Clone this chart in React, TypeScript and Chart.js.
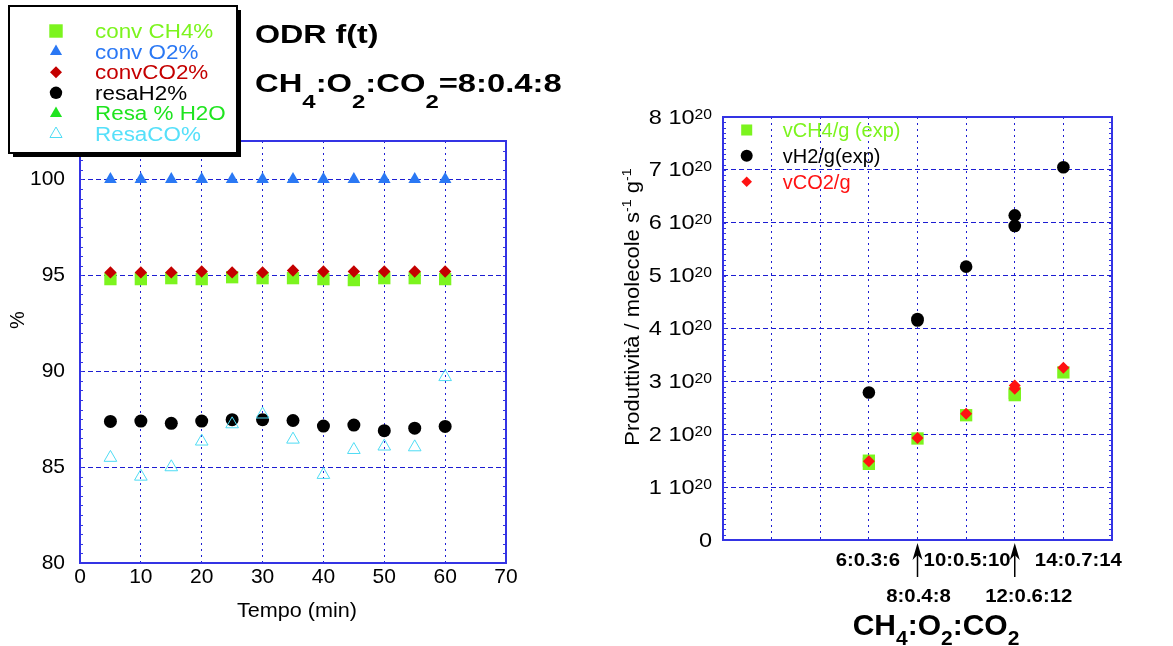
import React, { useEffect, useRef } from 'react';
import { Chart, registerables } from 'chart.js';

Chart.register(...registerables);

const FONT = "'Liberation Sans', Arial, Helvetica, sans-serif";

// ---------------- Left chart data (ODR f(t)) ----------------
const timeMin = [5, 10, 15, 20, 25, 30, 35, 40, 45, 50, 55, 60];
const convCH4 = [94.8, 94.8, 94.85, 94.8, 94.9, 94.85, 94.85, 94.8, 94.75, 94.85, 94.85, 94.8];
const convO2 = [100, 100, 100, 100, 100, 100, 100, 100, 100, 100, 100, 100];
const convCO2 = [95.15, 95.15, 95.15, 95.2, 95.15, 95.15, 95.25, 95.2, 95.2, 95.2, 95.2, 95.2];
const resaH2 = [87.38, 87.4, 87.28, 87.4, 87.47, 87.47, 87.43, 87.14, 87.19, 86.9, 87.03, 87.12];
const resaH2O: number[] = [];
const resaCO = [85.49, 84.51, 85.0, 86.34, 87.24, 87.75, 86.44, 84.6, 85.9, 86.08, 86.04, 89.7];
const leftSeriesLabels = ['conv CH4%', 'conv O2%', 'convCO2%', 'resaH2%', 'Resa % H2O', 'ResaCO%'];
const leftXMin = 0, leftXMax = 70, leftXStep = 10;
const leftYMin = 80, leftYMax = 102, leftYStep = 5;
const leftXTitle = 'Tempo (min)';
const leftYTitle = '%';

// ---------------- Right chart data (productivity) ----------------
const ratioCH4 = [6, 8, 10, 12, 14];
const ratioLabels = ['6:0.3:6', '8:0.4:8', '10:0.5:10', '12:0.6:12', '14:0.7:14'];
const vCH4x = [6, 6, 8, 10, 12, 12, 14];
const vCH4 = [1.44, 1.5, 1.92, 2.36, 2.74, 2.78, 3.17];
const vH2x = [6, 8, 8, 10, 12, 12, 14];
const vH2 = [2.79, 4.15, 4.18, 5.17, 5.94, 6.14, 7.05];
const vCO2x = [6, 8, 10, 12, 12, 14];
const vCO2 = [1.49, 1.93, 2.39, 2.86, 2.92, 3.26];
const rightSeriesLabels = ['vCH4/g (exp)', 'vH2/g(exp)', 'vCO2/g'];
const rightYTicks = [0, 1, 2, 3, 4, 5, 6, 7, 8];
const rightExponent = '20';
const rightXMin = 0, rightXMax = 16, rightXStep = 2;

const BLUE = '#1d1dd2';
const FRAME = '#3434e4';
const LIME = '#7cf41e';

type Seg = { t: string; size: number; bold?: boolean; dy?: number };

function fontOf(s: Seg) {
  return `${s.bold ? 'bold ' : ''}${s.size}px ${FONT}`;
}
function richWidth(ctx: CanvasRenderingContext2D, segs: Seg[], sx: number) {
  let w = 0;
  for (const s of segs) {
    ctx.font = fontOf(s);
    w += ctx.measureText(s.t).width * sx;
  }
  return w;
}
function drawRich(ctx: CanvasRenderingContext2D, segs: Seg[], x: number, y: number, align: 'left' | 'center' | 'right', color: string, sx = 1) {
  const w = richWidth(ctx, segs, sx);
  let cx = align === 'left' ? x : align === 'center' ? x - w / 2 : x - w;
  ctx.fillStyle = color;
  ctx.textAlign = 'left';
  ctx.textBaseline = 'alphabetic';
  for (const s of segs) {
    ctx.font = fontOf(s);
    ctx.save();
    ctx.translate(cx, y + (s.dy ?? 0));
    ctx.scale(sx, 1);
    ctx.fillText(s.t, 0, 0);
    ctx.restore();
    cx += ctx.measureText(s.t).width * sx;
  }
}

function drawMarker(ctx: CanvasRenderingContext2D, style: string, x: number, y: number, r: number, fill: string, stroke: string, lw: number) {
  ctx.beginPath();
  if (style === 'rect') {
    const s = r * Math.SQRT1_2;
    ctx.rect(x - s, y - s, 2 * s, 2 * s);
  } else if (style === 'triangle') {
    ctx.moveTo(x, y - r);
    ctx.lineTo(x + r * 0.866, y + r * 0.5);
    ctx.lineTo(x - r * 0.866, y + r * 0.5);
    ctx.closePath();
  } else if (style === 'rectRot') {
    ctx.moveTo(x - r, y);
    ctx.lineTo(x, y - r);
    ctx.lineTo(x + r, y);
    ctx.lineTo(x, y + r);
    ctx.closePath();
  } else {
    ctx.arc(x, y, r, 0, Math.PI * 2);
  }
  if (fill && fill !== 'transparent') {
    ctx.fillStyle = fill;
    ctx.fill();
  }
  if (lw > 0) {
    ctx.strokeStyle = stroke;
    ctx.lineWidth = lw;
    ctx.stroke();
  }
}

function pts(xs: number[], ys: number[]) {
  return ys.map((y, i) => ({ x: xs[i], y }));
}

function line(ctx: CanvasRenderingContext2D, x1: number, y1: number, x2: number, y2: number) {
  ctx.beginPath();
  ctx.moveTo(x1, y1);
  ctx.lineTo(x2, y2);
  ctx.stroke();
}

const leftDecor = {
  id: 'leftDecor',
  beforeDatasetsDraw(chart: any) {
    const { ctx, chartArea: a, scales } = chart;
    const y = scales.y;
    ctx.save();
    ctx.strokeStyle = FRAME;
    ctx.lineWidth = 1;
    for (let v = leftYMin; v <= leftYMax + 1e-9; v += 0.5) {
      const py = Math.round(y.getPixelForValue(v)) + 0.5;
      line(ctx, a.left, py, a.left + 3, py);
      line(ctx, a.right - 3, py, a.right, py);
    }
    ctx.lineWidth = 2;
    ctx.strokeRect(a.left, a.top, a.right - a.left, a.bottom - a.top);
    ctx.restore();
  },
  afterDraw(chart: any) {
    const { ctx } = chart;
    ctx.save();
    // axis titles
    drawRich(ctx, [{ t: leftXTitle, size: 20 }], 297, 617, 'center', '#000', 1.08);
    ctx.save();
    ctx.translate(24, 320);
    ctx.rotate(-Math.PI / 2);
    drawRich(ctx, [{ t: leftYTitle, size: 20 }], 0, 0, 'center', '#000');
    ctx.restore();

    // chart title
    drawRich(ctx, [{ t: 'ODR f(t)', size: 26, bold: true }], 255, 43, 'left', '#000', 1.24);
    drawRich(ctx, [
      { t: 'CH', size: 26, bold: true },
      { t: '4', size: 19, bold: true, dy: 16 },
      { t: ':O', size: 26, bold: true },
      { t: '2', size: 19, bold: true, dy: 16 },
      { t: ':CO', size: 26, bold: true },
      { t: '2', size: 19, bold: true, dy: 16 },
      { t: '=8:0.4:8', size: 26, bold: true },
    ], 255, 92, 'left', '#000', 1.26);

    // legend box with shadow
    const bx = 9, by = 6, bw = 228, bh = 147;
    ctx.fillStyle = '#000';
    ctx.fillRect(bx + 4, by + 4, bw, bh);
    ctx.fillStyle = '#fff';
    ctx.fillRect(bx, by, bw, bh);
    ctx.strokeStyle = '#000';
    ctx.lineWidth = 2;
    ctx.strokeRect(bx, by, bw, bh);
    chart.data.datasets.forEach((ds: any, i: number) => {
      const ry = 31 + 20.6 * i;
      drawMarker(ctx, ds.pointStyle, 56, ry, ds.legendRadius, ds.backgroundColor, ds.borderColor, ds.borderWidth);
      drawRich(ctx, [{ t: ds.label, size: 20 }], 95, ry + 7, 'left', ds.textColor, 1.12);
    });
    ctx.restore();
  },
};

const rightDecor = {
  id: 'rightDecor',
  beforeDatasetsDraw(chart: any) {
    const { ctx, chartArea: a, scales } = chart;
    const y = scales.y;
    ctx.save();
    ctx.strokeStyle = FRAME;
    ctx.lineWidth = 1;
    for (let v = 0; v <= 8 + 1e-9; v += 0.1) {
      const py = Math.round(y.getPixelForValue(v)) + 0.5;
      line(ctx, a.left, py, a.left + 3, py);
      line(ctx, a.right - 3, py, a.right, py);
    }
    ctx.lineWidth = 2;
    ctx.strokeRect(a.left, a.top, a.right - a.left, a.bottom - a.top);
    ctx.restore();
  },
  afterDraw(chart: any) {
    const { ctx, scales } = chart;
    const x = scales.x, y = scales.y;
    ctx.save();
    // y tick labels with superscript exponent
    rightYTicks.forEach((v) => {
      const py = y.getPixelForValue(v);
      const segs: Seg[] = v === 0
        ? [{ t: '0', size: 21 }]
        : [{ t: `${v} 10`, size: 21 }, { t: rightExponent, size: 14, dy: -5 }];
      drawRich(ctx, segs, 122, py + 6.5, 'right', '#000', 1.12);
    });
    // x tick labels, alternating rows, with arrows for the lower row
    const shift = [-1, 1, 1, 14, 15];
    ratioCH4.forEach((v, i) => {
      const px = x.getPixelForValue(v);
      const lower = i % 2 === 1;
      drawRich(ctx, [{ t: ratioLabels[i], size: 19, bold: true }], px + shift[i], lower ? 602 : 566, 'center', '#000', 1.07);
      if (lower) {
        ctx.strokeStyle = '#000';
        ctx.fillStyle = '#000';
        ctx.lineWidth = 1.5;
        line(ctx, px, 577, px, 550);
        ctx.beginPath();
        ctx.moveTo(px, 543);
        ctx.lineTo(px + 5, 560);
        ctx.lineTo(px, 555);
        ctx.lineTo(px - 5, 560);
        ctx.closePath();
        ctx.fill();
      }
    });
    // x axis title
    drawRich(ctx, [
      { t: 'CH', size: 30, bold: true },
      { t: '4', size: 21, bold: true, dy: 10 },
      { t: ':O', size: 30, bold: true },
      { t: '2', size: 21, bold: true, dy: 10 },
      { t: ':CO', size: 30, bold: true },
      { t: '2', size: 21, bold: true, dy: 10 },
    ], 346, 635, 'center', '#000');
    // y axis title
    ctx.save();
    ctx.translate(49, 307);
    ctx.rotate(-Math.PI / 2);
    drawRich(ctx, [
      { t: 'Produttività / molecole s', size: 20 },
      { t: '-1', size: 13, dy: -8 },
      { t: ' g', size: 20 },
      { t: '-1', size: 13, dy: -8 },
    ], 0, 0, 'center', '#000', 1.1);
    ctx.restore();
    // legend
    chart.data.datasets.forEach((ds: any, i: number) => {
      const ry = [130, 155.7, 181.7][i];
      drawMarker(ctx, ds.pointStyle, 156.7, ry, ds.legendRadius, ds.backgroundColor, ds.borderColor, ds.borderWidth);
      drawRich(ctx, [{ t: ds.label, size: 20 }], 192.7, ry + 7, 'left', ds.textColor);
    });
    ctx.restore();
  },
};

const hide = 'rgba(0,0,0,0)';

function leftConfig(): any {
  return {
    type: 'scatter',
    data: {
      datasets: [
        { label: leftSeriesLabels[0], data: pts(timeMin, convCH4), pointStyle: 'rect', pointRadius: 8.7, legendRadius: 9.5, backgroundColor: LIME, borderColor: LIME, borderWidth: 0, order: 4, textColor: LIME },
        { label: leftSeriesLabels[1], data: pts(timeMin, convO2), pointStyle: 'triangle', pointRadius: 7.3, legendRadius: 7, backgroundColor: '#2a78f4', borderColor: '#2a78f4', borderWidth: 0, order: 2, textColor: '#2a78f4' },
        { label: leftSeriesLabels[2], data: pts(timeMin, convCO2), pointStyle: 'rectRot', pointRadius: 6.2, legendRadius: 6, backgroundColor: '#c40000', borderColor: '#c40000', borderWidth: 0, order: 1, textColor: '#c40000' },
        { label: leftSeriesLabels[3], data: pts(timeMin, resaH2), pointStyle: 'circle', pointRadius: 6.5, legendRadius: 6.2, backgroundColor: '#000', borderColor: '#000', borderWidth: 0, order: 3, textColor: '#000' },
        { label: leftSeriesLabels[4], data: pts(timeMin, resaH2O), pointStyle: 'triangle', pointRadius: 7.3, legendRadius: 7, backgroundColor: '#1fe41f', borderColor: '#1fe41f', borderWidth: 0, order: 5, textColor: '#1fe41f' },
        { label: leftSeriesLabels[5], data: pts(timeMin, resaCO), pointStyle: 'triangle', pointRadius: 7.3, legendRadius: 7, backgroundColor: 'transparent', borderColor: '#4fdcf4', borderWidth: 1, order: 0, textColor: '#55e0fa' },
      ],
    },
    options: {
      responsive: false,
      animation: false,
      devicePixelRatio: 1,
      events: [],
      layout: { padding: { left: 0, right: 84, top: 141, bottom: 0 } },
      plugins: { legend: { display: false }, tooltip: { enabled: false }, title: { display: false } },
      scales: {
        x: {
          type: 'linear', min: leftXMin, max: leftXMax,
          afterFit: (s: any) => { s.height = 83; },
          ticks: { stepSize: leftXStep, color: '#000', font: { family: FONT, size: 21 }, padding: 2, maxRotation: 0, autoSkip: false },
          grid: { color: (c: any) => (c.tick && (c.tick.value <= leftXMin || c.tick.value >= leftXMax) ? hide : BLUE), lineWidth: 1, drawTicks: false },
          border: { display: false, dash: [2, 4] },
        },
        y: {
          type: 'linear', min: leftYMin, max: leftYMax,
          afterFit: (s: any) => { s.width = 80; },
          afterBuildTicks: (s: any) => { s.ticks = s.ticks.filter((t: any) => Math.abs(t.value % leftYStep) < 1e-9); },
          ticks: { stepSize: leftYStep, color: '#000', font: { family: FONT, size: 21 }, padding: 15, autoSkip: false },
          grid: { color: (c: any) => (c.tick && c.tick.value <= leftYMin ? hide : BLUE), lineWidth: 1, drawTicks: false },
          border: { display: false, dash: [5, 3] },
        },
      },
    },
    plugins: [leftDecor],
  };
}

function rightConfig(): any {
  return {
    type: 'scatter',
    data: {
      datasets: [
        { label: rightSeriesLabels[0], data: pts(vCH4x, vCH4), pointStyle: 'rect', pointRadius: 8.7, legendRadius: 7.8, backgroundColor: LIME, borderColor: LIME, borderWidth: 0, order: 2, textColor: LIME },
        { label: rightSeriesLabels[1], data: pts(vH2x, vH2), pointStyle: 'circle', pointRadius: 6.3, legendRadius: 6, backgroundColor: '#000', borderColor: '#000', borderWidth: 0, order: 1, textColor: '#000' },
        { label: rightSeriesLabels[2], data: pts(vCO2x, vCO2), pointStyle: 'rectRot', pointRadius: 6, legendRadius: 5.3, backgroundColor: '#ff1212', borderColor: '#ff1212', borderWidth: 0, order: 0, textColor: '#ff1212' },
      ],
    },
    options: {
      responsive: false,
      animation: false,
      devicePixelRatio: 1,
      events: [],
      layout: { padding: { left: 0, right: 61, top: 117, bottom: 0 } },
      plugins: { legend: { display: false }, tooltip: { enabled: false }, title: { display: false } },
      scales: {
        x: {
          type: 'linear', min: rightXMin, max: rightXMax,
          afterFit: (s: any) => { s.height = 106; },
          ticks: { display: false, stepSize: rightXStep },
          grid: { color: (c: any) => (c.tick && (c.tick.value <= rightXMin || c.tick.value >= rightXMax) ? hide : BLUE), lineWidth: 1, drawTicks: false },
          border: { display: false, dash: [2, 4] },
        },
        y: {
          type: 'linear', min: rightYTicks[0], max: rightYTicks[rightYTicks.length - 1],
          afterFit: (s: any) => { s.width = 133; },
          ticks: { display: false, stepSize: 1 },
          grid: { color: (c: any) => (c.tick && (c.tick.value <= 0 || c.tick.value >= 8) ? hide : BLUE), lineWidth: 1, drawTicks: false },
          border: { display: false, dash: [5, 3] },
        },
      },
    },
    plugins: [rightDecor],
  };
}

export default function App() {
  const leftRef = useRef<HTMLCanvasElement>(null);
  const rightRef = useRef<HTMLCanvasElement>(null);
  useEffect(() => {
    const left = new Chart(leftRef.current as HTMLCanvasElement, leftConfig());
    const right = new Chart(rightRef.current as HTMLCanvasElement, rightConfig());
    return () => {
      left.destroy();
      right.destroy();
    };
  }, []);
  return (
    <div style={{ position: 'fixed', left: 0, top: 0, width: 1173, height: 646, background: '#fff', overflow: 'hidden' }}>
      <canvas ref={leftRef} width={590} height={646} style={{ position: 'absolute', left: 0, top: 0, width: 590, height: 646 }} />
      <canvas ref={rightRef} width={583} height={646} style={{ position: 'absolute', left: 590, top: 0, width: 583, height: 646 }} />
    </div>
  );
}
